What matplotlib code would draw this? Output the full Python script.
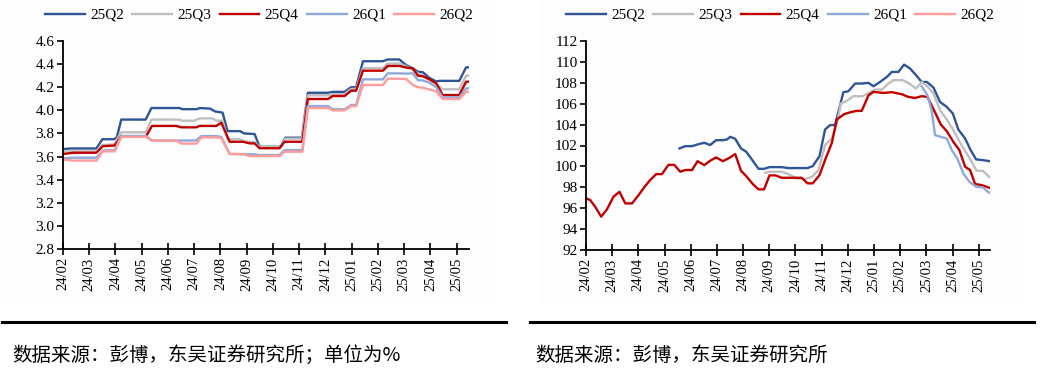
import matplotlib
matplotlib.use("Agg")
import matplotlib.pyplot as plt
from matplotlib.lines import Line2D
from matplotlib.patches import Rectangle

plt.rcParams["font.family"] = ["Liberation Serif", "DejaVu Serif"]

month_labels = ["24/02", "24/03", "24/04", "24/05", "24/06", "24/07", "24/08", "24/09",
                "24/10", "24/11", "24/12", "25/01", "25/02", "25/03", "25/04", "25/05"]
series_names = ["25Q2", "25Q3", "25Q4", "26Q1", "26Q2"]
colors = ["#2f5597", "#bfbfbf", "#c00000", "#8eaadb", "#ff9b9b"]

# left chart (%): x in months since 24/02
l_25q2_x = [0, 0.3, 1.27, 1.5, 1.94, 2.05, 2.22, 3.15, 3.37, 4.44,
            4.55, 5.1, 5.2, 5.6, 5.8, 6.08, 6.27, 6.75, 6.9, 7.3,
            7.49, 8.3, 8.47, 9.1, 9.33, 10.1, 10.28, 10.73, 10.98, 11.17,
            11.43, 12.19, 12.37, 12.82, 13.08, 13.33, 13.52, 13.71, 13.96, 14.22,
            14.35, 15.1, 15.36, 15.47]
l_25q2_y = [3.665, 3.67, 3.67, 3.75, 3.75, 3.765, 3.92, 3.92, 4.02, 4.02,
            4.01, 4.01, 4.02, 4.015, 3.99, 3.98, 3.82, 3.82, 3.80, 3.795,
            3.685, 3.685, 3.763, 3.763, 4.152, 4.152, 4.16, 4.16, 4.20, 4.20,
            4.425, 4.425, 4.44, 4.44, 4.39, 4.363, 4.334, 4.33, 4.28, 4.25,
            4.255, 4.255, 4.372, 4.372]

l_25q3_x = [0, 1.27, 1.5, 1.94, 2.22, 3.15, 3.37, 4.4, 4.55, 5.0,
            5.2, 5.7, 5.85, 6.08, 6.27, 6.75, 6.9, 7.3, 7.49, 8.3,
            8.47, 9.1, 9.33, 10.1, 10.28, 10.73, 10.98, 11.17, 11.43, 12.19,
            12.37, 12.82, 13.08, 13.33, 13.52, 13.71, 13.96, 14.22, 14.47, 15.1,
            15.36, 15.47]
l_25q3_y = [3.645, 3.645, 3.70, 3.705, 3.81, 3.81, 3.92, 3.92, 3.91, 3.91,
            3.93, 3.93, 3.91, 3.91, 3.75, 3.75, 3.73, 3.725, 3.685, 3.685,
            3.755, 3.755, 4.13, 4.13, 4.14, 4.14, 4.185, 4.185, 4.365, 4.365,
            4.405, 4.405, 4.38, 4.35, 4.32, 4.30, 4.26, 4.23, 4.182, 4.182,
            4.30, 4.30]

l_25q4_x = [0, 0.38, 1.27, 1.52, 1.97, 2.22, 3.17, 3.39, 4.32, 4.51,
            5.08, 5.2, 5.84, 6.03, 6.35, 6.86, 7.11, 7.3, 7.49, 8.25,
            8.44, 9.12, 9.33, 10.09, 10.28, 10.73, 10.98, 11.17, 11.43, 12.19,
            12.37, 12.82, 13.08, 13.33, 13.52, 13.71, 13.96, 14.22, 14.47, 15.1,
            15.36, 15.47]
l_25q4_y = [3.622, 3.633, 3.633, 3.69, 3.695, 3.777, 3.777, 3.865, 3.865, 3.853,
            3.853, 3.865, 3.865, 3.893, 3.728, 3.728, 3.714, 3.714, 3.672, 3.672,
            3.728, 3.728, 4.098, 4.098, 4.124, 4.124, 4.17, 4.17, 4.343, 4.343,
            4.384, 4.384, 4.37, 4.363, 4.30, 4.295, 4.27, 4.234, 4.132, 4.132,
            4.248, 4.248]

l_26q1_x = [0, 0.38, 1.27, 1.52, 1.97, 2.22, 3.17, 3.39, 4.32, 4.51,
            5.08, 5.27, 5.84, 6.03, 6.35, 7.24, 7.49, 8.25, 8.44, 9.12,
            9.33, 10.09, 10.28, 10.73, 10.98, 11.17, 11.43, 12.19, 12.37, 12.82,
            13.08, 13.33, 13.52, 13.71, 13.96, 14.22, 14.47, 15.1, 15.36, 15.47]
l_26q1_y = [3.585, 3.59, 3.59, 3.652, 3.655, 3.777, 3.777, 3.738, 3.738, 3.738,
            3.74, 3.777, 3.777, 3.77, 3.622, 3.62, 3.613, 3.613, 3.656, 3.656,
            4.037, 4.037, 4.009, 4.009, 4.046, 4.046, 4.268, 4.268, 4.32, 4.32,
            4.318, 4.32, 4.262, 4.258, 4.24, 4.20, 4.112, 4.112, 4.19, 4.19]

l_26q2_x = [0, 0.38, 1.27, 1.52, 1.97, 2.22, 3.17, 3.39, 4.32, 4.51,
            5.08, 5.27, 5.84, 6.03, 6.35, 6.86, 7.11, 7.49, 8.25, 8.44,
            9.12, 9.33, 10.09, 10.28, 10.73, 10.98, 11.17, 11.43, 12.19, 12.37,
            12.82, 13.08, 13.33, 13.52, 13.71, 13.96, 14.22, 14.47, 15.1, 15.36,
            15.47]
l_26q2_y = [3.575, 3.565, 3.565, 3.645, 3.645, 3.77, 3.77, 3.738, 3.738, 3.712,
            3.712, 3.766, 3.766, 3.76, 3.622, 3.622, 3.604, 3.604, 3.604, 3.642,
            3.642, 4.02, 4.02, 4.0, 4.0, 4.037, 4.037, 4.219, 4.219, 4.274,
            4.274, 4.27, 4.22, 4.2, 4.196, 4.18, 4.165, 4.098, 4.098, 4.161,
            4.161]

# right chart: x in months since 24/02
r_25q2_x = [3.57, 3.79, 4.05, 4.3, 4.52, 4.74, 4.97, 5.23, 5.38, 5.51,
            5.7, 5.92, 6.12, 6.37, 6.59, 6.8, 7.01, 7.48, 7.73, 8.46,
            8.66, 8.92, 9.13, 9.32, 9.51, 9.83, 10.02, 10.28, 10.53, 10.79,
            10.98, 11.23, 11.49, 11.68, 11.93, 12.15, 12.38, 12.61, 12.82, 13.02,
            13.27, 13.52, 13.78, 14.01, 14.22, 14.48, 14.69, 14.9, 15.15, 15.4]
r_25q2_y = [101.72, 101.94, 101.94, 102.13, 102.26, 102.04, 102.51, 102.51, 102.57, 102.83,
            102.64, 101.72, 101.4, 100.54, 99.77, 99.77, 99.93, 99.93, 99.84, 99.84,
            100.03, 100.98, 103.53, 103.95, 103.95, 107.1, 107.19, 107.93, 107.93, 107.99,
            107.67, 108.08, 108.56, 109.04, 109.04, 109.74, 109.36, 108.72, 108.08, 108.08,
            107.55, 106.17, 105.69, 105.06, 103.53, 102.67, 101.56, 100.67, 100.6, 100.51]

r_25q3_x = [6.84, 7.04, 7.48, 7.73, 8.05, 8.37, 8.63, 8.88, 9.13, 9.39,
            9.6, 9.73, 9.96, 10.21, 10.34, 10.57, 10.79, 11.04, 11.3, 11.55,
            11.74, 12.1, 12.35, 12.61, 12.82, 13.04, 13.27, 13.52, 13.78, 14.03,
            14.29, 14.54, 14.73, 14.92, 15.15, 15.4]
r_25q3_y = [99.39, 99.49, 99.49, 99.26, 98.85, 98.8, 99.0, 99.65, 102.04, 102.67,
            104.26, 106.02, 106.27, 106.72, 106.72, 106.72, 107.03, 107.35, 107.35, 107.93,
            108.25, 108.25, 107.93, 107.45, 108.08, 107.67, 106.97, 105.38, 104.49, 103.47,
            102.26, 101.24, 100.44, 99.58, 99.58, 99.0]

r_25q4_x = [0, 0.16, 0.35, 0.58, 0.8, 1.05, 1.28, 1.5, 1.76, 2.01,
            2.26, 2.45, 2.68, 2.9, 3.15, 3.37, 3.6, 3.79, 4.05, 4.26,
            4.52, 4.74, 4.97, 5.23, 5.48, 5.7, 5.92, 6.12, 6.37, 6.59,
            6.8, 7.01, 7.23, 7.48, 8.24, 8.46, 8.66, 8.92, 9.13, 9.39,
            9.58, 9.86, 10.15, 10.34, 10.53, 10.79, 10.98, 11.36, 11.68, 12.06,
            12.31, 12.57, 12.82, 13.04, 13.29, 13.55, 13.78, 14.03, 14.26, 14.48,
            14.67, 14.86, 15.11, 15.4]
r_25q4_y = [96.94, 96.78, 96.14, 95.19, 95.89, 97.1, 97.57, 96.46, 96.46, 97.26,
            98.12, 98.69, 99.26, 99.26, 100.15, 100.15, 99.49, 99.65, 99.65, 100.5,
            100.12, 100.54, 100.86, 100.5, 100.82, 101.18, 99.58, 99.07, 98.31, 97.8,
            97.8, 99.14, 99.14, 98.91, 98.91, 98.38, 98.38, 99.17, 100.6, 102.26,
            104.49, 105.0, 105.22, 105.31, 105.31, 106.81, 107.13, 107.03, 107.1, 106.91,
            106.65, 106.55, 106.72, 106.65, 105.38, 104.01, 103.37, 102.35, 101.56, 99.96,
            99.65, 98.31, 98.21, 97.96]

r_26q1_x = [12.82, 13.04, 13.2, 13.33, 13.55, 13.78, 13.97, 14.18, 14.41, 14.64,
            14.9, 15.15, 15.4]
r_26q1_y = [107.67, 106.81, 105.38, 102.99, 102.83, 102.67, 101.56, 100.76, 99.33, 98.53,
            98.05, 97.99, 97.48]

r_26q2_x = []
r_26q2_y = []

left_data = [(l_25q2_x, l_25q2_y), (l_25q3_x, l_25q3_y), (l_25q4_x, l_25q4_y),
             (l_26q1_x, l_26q1_y), (l_26q2_x, l_26q2_y)]
right_data = [(r_25q2_x, r_25q2_y), (r_25q3_x, r_25q3_y), (r_25q4_x, r_25q4_y),
              (r_26q1_x, r_26q1_y), (r_26q2_x, r_26q2_y)]

W, H = 1043, 377
fig = plt.figure(figsize=(W / 100, H / 100), dpi=100)

# very faint panel backgrounds
for x0, x1 in [(0, 495), (542, 1023)]:
    fig.add_artist(Rectangle((x0 / W, 1 - 305 / H), (x1 - x0) / W, 305 / H,
                             transform=fig.transFigure, facecolor="#fdfdfd",
                             edgecolor="none", zorder=-10))


def setup(ax, data, ylim, yticks, yfmt, xmax, legend_x):
    for (xs, ys), name, c in zip(data, series_names, colors):
        ax.plot(xs, ys, color=c, lw=1.7, label=name)
    ax.set_xlim(0, xmax)
    ax.set_ylim(*ylim)
    ax.set_yticks(yticks)
    ax.set_yticklabels([yfmt.format(v) for v in yticks], fontsize=11)
    ax.set_xticks(range(len(month_labels)))
    ax.set_xticklabels(month_labels, rotation=90, fontsize=10.5)
    ax.tick_params(axis="x", direction="inout", length=8, width=1.2, pad=2)
    ax.tick_params(axis="y", direction="out", length=4, width=1.2, pad=2)
    for s in ["top", "right"]:
        ax.spines[s].set_visible(False)
    for s in ["left", "bottom"]:
        ax.spines[s].set_linewidth(1.3)
    ax.patch.set_alpha(0)
    ax.legend(loc="center left", bbox_to_anchor=(legend_x / W, 1 - 15 / H),
              bbox_transform=fig.transFigure, ncol=5, frameon=False, fontsize=11,
              handlelength=2.6, handletextpad=0.35, columnspacing=0.55,
              borderaxespad=0, borderpad=0)


ax1 = fig.add_axes([63 / W, 1 - 249 / H, (469 - 63) / W, (249 - 41) / H])
setup(ax1, left_data, (2.8, 4.6), [2.8 + 0.2 * i for i in range(10)], "{:.1f}", 15.47, 45)

ax2 = fig.add_axes([586 / W, 1 - 250 / H, (990 - 586) / W, (250 - 41) / H])
setup(ax2, right_data, (92, 112), list(range(92, 113, 2)), "{:d}", 15.43, 566)

# bottom rules and source notes
for x0, x1 in [(2, 506), (530, 1034)]:
    fig.add_artist(Line2D([x0 / W, x1 / W], [1 - 322 / H, 1 - 322 / H],
                          transform=fig.transFigure, color="black", lw=2.2))

cjk = ["Noto Sans CJK SC", "DejaVu Sans"]
fig.text(12 / W, 1 - 355 / H, "数据来源：彭博，东吴证券研究所；单位为%",
         family=cjk, fontsize=14, va="center", ha="left")
fig.text(535 / W, 1 - 355 / H, "数据来源：彭博，东吴证券研究所",
         family=cjk, fontsize=14, va="center", ha="left")

fig.savefig("out.png", dpi=100)
